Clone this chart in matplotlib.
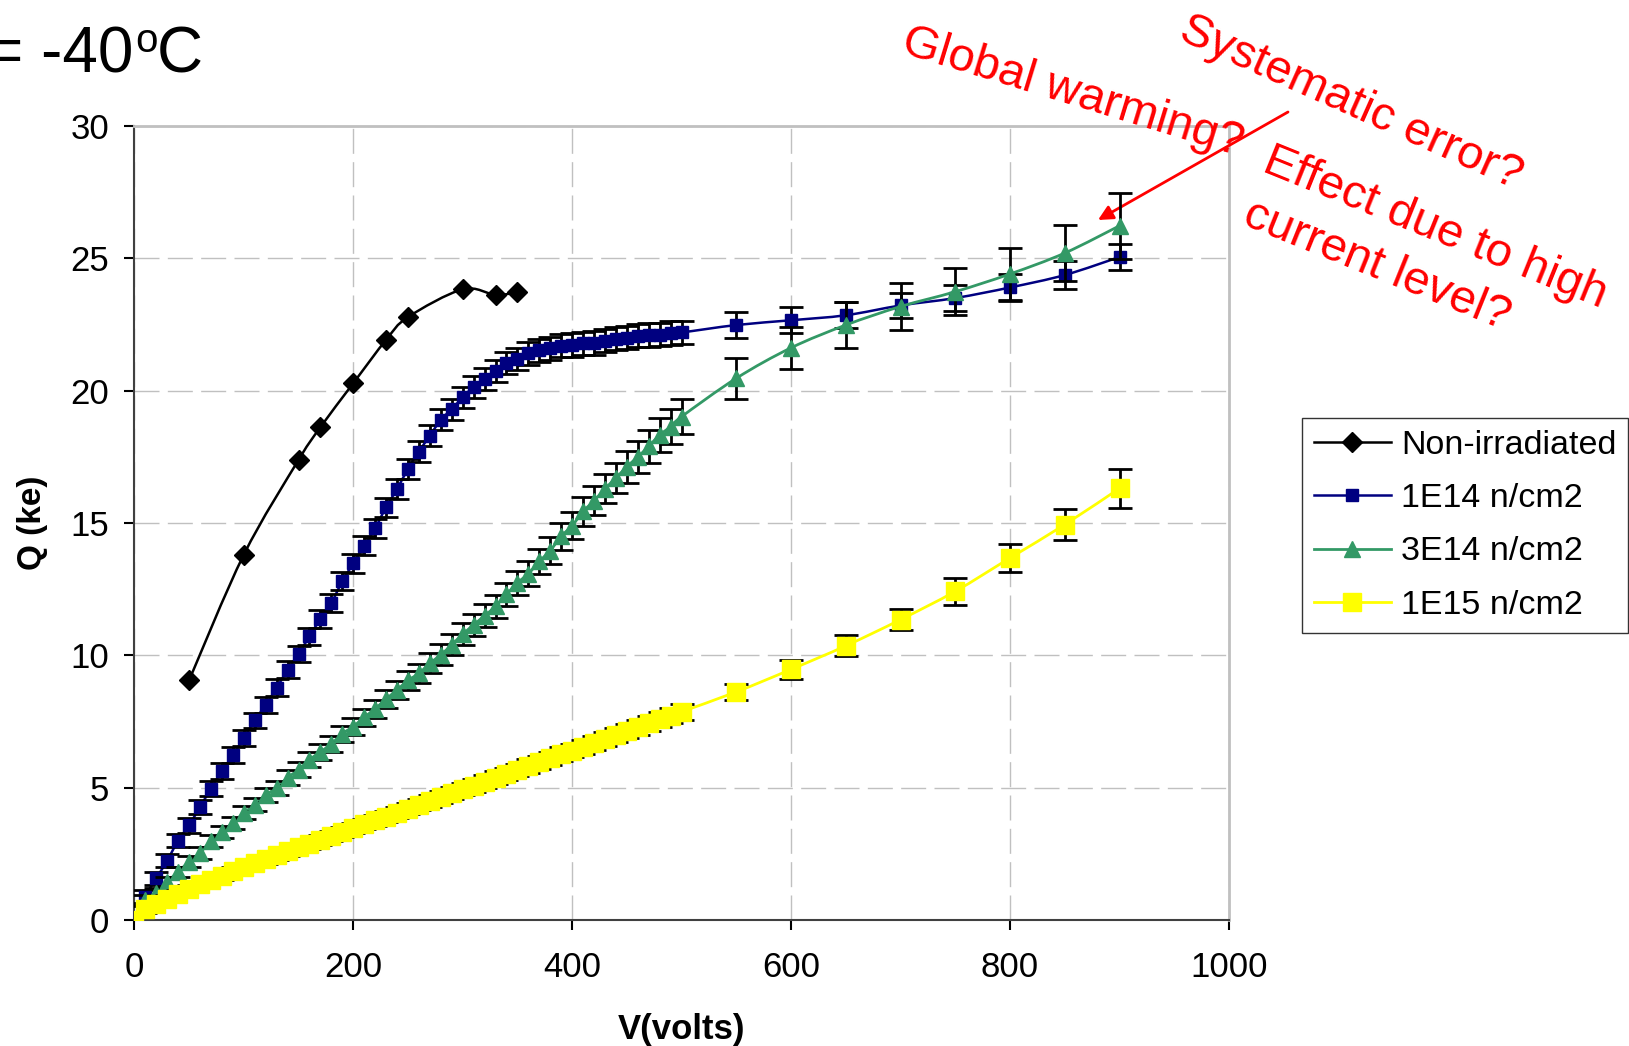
import matplotlib
matplotlib.use('Agg')
import matplotlib.pyplot as plt
from matplotlib.path import Path
from matplotlib.patches import PathPatch
from matplotlib.lines import Line2D

plt.rcParams['font.family'] = ['Liberation Sans', 'DejaVu Sans']

# non-irradiated detector
v_nonirr = [50, 100, 150, 170, 200, 230, 250, 300, 330, 350]
q_nonirr = [9.05, 13.8, 17.38, 18.62, 20.28, 21.92, 22.78, 23.83, 23.62, 23.72]

# bias voltages shared by the irradiated detectors
volts = [0, 10, 20, 30, 40, 50, 60, 70, 80, 90,
         100, 110, 120, 130, 140, 150, 160, 170, 180, 190,
         200, 210, 220, 230, 240, 250, 260, 270, 280, 290,
         300, 310, 320, 330, 340, 350, 360, 370, 380, 390,
         400, 410, 420, 430, 440, 450, 460, 470, 480, 490,
         500, 550, 600, 650, 700, 750, 800, 850, 900]

q_1e14 = [0.0, 0.88, 1.57, 2.24, 3.0, 3.58, 4.27, 4.96, 5.63, 6.22,
          6.88, 7.54, 8.13, 8.77, 9.45, 10.05, 10.72, 11.38, 11.98, 12.8,
          13.47, 14.14, 14.8, 15.6, 16.28, 17.05, 17.7, 18.3, 18.9, 19.3,
          19.75, 20.14, 20.44, 20.74, 21.04, 21.2, 21.41, 21.52, 21.6, 21.7,
          21.72, 21.79, 21.8, 21.89, 21.96, 22.0, 22.08, 22.1, 22.12, 22.18,
          22.2, 22.48, 22.66, 22.85, 23.22, 23.5, 23.9, 24.37, 25.05]
err_1e14 = [0.2, 0.25, 0.25, 0.25, 0.25, 0.28, 0.28, 0.28, 0.3, 0.3,
            0.3, 0.3, 0.3, 0.32, 0.32, 0.32, 0.33, 0.33, 0.35, 0.35,
            0.35, 0.35, 0.36, 0.36, 0.38, 0.38, 0.38, 0.4, 0.4, 0.4,
            0.4, 0.42, 0.42, 0.42, 0.42, 0.43, 0.43, 0.44, 0.44, 0.44,
            0.44, 0.44, 0.44, 0.44, 0.44, 0.44, 0.44, 0.44, 0.44, 0.44,
            0.44, 0.48, 0.5, 0.5, 0.48, 0.5, 0.5, 0.53, 0.5]

q_3e14 = [0.0, 0.75, 1.03, 1.44, 1.82, 2.2, 2.54, 2.99, 3.33, 3.67,
          4.05, 4.35, 4.72, 5.0, 5.38, 5.68, 6.06, 6.35, 6.66, 7.04,
          7.31, 7.66, 7.98, 8.35, 8.69, 9.05, 9.32, 9.7, 10.02, 10.4,
          10.8, 11.15, 11.5, 11.85, 12.3, 12.74, 13.08, 13.55, 13.96, 14.5,
          14.9, 15.44, 15.84, 16.3, 16.7, 17.13, 17.5, 17.9, 18.33, 18.64,
          19.02, 20.47, 21.62, 22.48, 23.18, 23.74, 24.41, 25.2, 26.23]
err_3e14 = [0.15, 0.18, 0.18, 0.2, 0.2, 0.2, 0.22, 0.22, 0.22, 0.24,
            0.24, 0.25, 0.25, 0.26, 0.27, 0.28, 0.28, 0.29, 0.3, 0.3,
            0.31, 0.32, 0.33, 0.34, 0.35, 0.36, 0.37, 0.38, 0.39, 0.4,
            0.41, 0.42, 0.43, 0.44, 0.45, 0.46, 0.47, 0.48, 0.5, 0.51,
            0.52, 0.54, 0.55, 0.56, 0.58, 0.6, 0.61, 0.62, 0.64, 0.66,
            0.67, 0.77, 0.8, 0.87, 0.87, 0.88, 0.98, 1.05, 1.25]

q_1e15 = [0.0, 0.4, 0.6, 0.8, 1.0, 1.18, 1.35, 1.52, 1.68, 1.84,
          2.0, 2.15, 2.3, 2.44, 2.59, 2.74, 2.88, 3.03, 3.18, 3.32,
          3.47, 3.62, 3.76, 3.91, 4.06, 4.2, 4.35, 4.5, 4.64, 4.79,
          4.94, 5.08, 5.23, 5.38, 5.52, 5.67, 5.82, 5.96, 6.11, 6.26,
          6.4, 6.55, 6.7, 6.84, 6.99, 7.14, 7.28, 7.43, 7.58, 7.72,
          7.87, 8.62, 9.47, 10.36, 11.35, 12.42, 13.68, 14.94, 16.31]
err_1e15 = [0.1, 0.12, 0.12, 0.13, 0.13, 0.14, 0.14, 0.15, 0.15, 0.15,
            0.16, 0.16, 0.17, 0.17, 0.17, 0.18, 0.18, 0.18, 0.19, 0.19,
            0.19, 0.2, 0.2, 0.2, 0.21, 0.21, 0.21, 0.22, 0.22, 0.22,
            0.23, 0.23, 0.23, 0.24, 0.24, 0.24, 0.25, 0.25, 0.25, 0.26,
            0.26, 0.26, 0.27, 0.27, 0.27, 0.28, 0.28, 0.28, 0.29, 0.29,
            0.3, 0.3, 0.35, 0.4, 0.4, 0.5, 0.53, 0.6, 0.73]

x_ticks = [0, 200, 400, 600, 800, 1000]
y_ticks = [0, 5, 10, 15, 20, 25, 30]


def smooth_path(x, y):
    # excel style smoothed line (catmull-rom as cubic beziers)
    verts = [(x[0], y[0])]
    codes = [Path.MOVETO]
    n = len(x)
    for i in range(n - 1):
        xa, ya = (x[i - 1], y[i - 1]) if i > 0 else (x[i], y[i])
        xb, yb = (x[i + 2], y[i + 2]) if i + 2 < n else (x[i + 1], y[i + 1])
        verts.append((x[i] + (x[i + 1] - xa) / 6, y[i] + (y[i + 1] - ya) / 6))
        verts.append((x[i + 1] - (xb - x[i]) / 6, y[i + 1] - (yb - y[i]) / 6))
        verts.append((x[i + 1], y[i + 1]))
        codes += [Path.CURVE4] * 3
    return Path(verts, codes)


W, H = 1629, 1046
fig = plt.figure(figsize=(W / 100, H / 100), dpi=100)
ax = fig.add_axes([134.3 / W, 1 - 920 / H, 1094.7 / W, 794 / H])

series = [
    (v_nonirr, q_nonirr, None, 'black', 'D', 10, 1.8, 'Non-irradiated'),
    (volts, q_1e14, err_1e14, '#000080', 's', 8.5, 1.8, '1E14 n/cm2'),
    (volts, q_3e14, err_3e14, '#339966', '^', 11, 2.0, '3E14 n/cm2'),
    (volts, q_1e15, err_1e15, '#FFFF00', 's', 12.5, 2.0, '1E15 n/cm2'),
]

handles = []
labels = []
for i, (x, y, err, c, m, ms, lw, lab) in enumerate(series):
    z = 2 + i
    ax.add_patch(PathPatch(smooth_path(x, y), fill=False, edgecolor=c, lw=lw, zorder=z))
    if err is not None:
        ax.errorbar(x, y, yerr=err, fmt='none', ecolor='black', elinewidth=2.0,
                    capsize=8.5, capthick=2.0, zorder=z + 0.3)
    ax.plot(x, y, linestyle='none', marker=m, ms=ms, color=c, mec=c, zorder=z + 0.6)
    handles.append(Line2D([], [], color=c, lw=lw, marker=m, ms=ms, mec=c))
    labels.append(lab)

ax.set_xlim(0, 1000)
ax.set_ylim(0, 30)
ax.set_xticks(x_ticks)
ax.set_yticks(y_ticks)
ax.grid(True, color='#c0c0c0', linestyle=(0, (18, 6)), linewidth=1)
ax.set_axisbelow(True)
ax.tick_params(direction='out', length=7, width=1.5, labelsize=25)
ax.tick_params(axis='x', pad=15)
ax.tick_params(axis='y', pad=11)
for s in ['top', 'right']:
    ax.spines[s].set_color('#c0c0c0')
    ax.spines[s].set_linewidth(2)
for s in ['left', 'bottom']:
    ax.spines[s].set_color('#404040')
    ax.spines[s].set_linewidth(1.5)

ax.set_xlabel('V(volts)', fontsize=25, fontweight='bold')
ax.xaxis.set_label_coords(0.5, -0.117)
ax.set_ylabel('Q (ke)', fontsize=24, fontweight='bold')
ax.yaxis.set_label_coords(-0.079, 0.5)

leg = ax.legend(handles, labels, loc='upper left', bbox_to_anchor=(1302 / W, 1 - 418 / H),
                bbox_transform=fig.transFigure, borderaxespad=0, fancybox=False,
                edgecolor='black', fontsize=24.5, handlelength=2.27, handletextpad=0.3,
                borderpad=0.34, labelspacing=0.66)
leg.get_frame().set_linewidth(1)

# temperature label, partly off the left edge as in the slide
fig.text(-14 / W, 1 - 72 / H, '= -40', fontsize=46, ha='left', va='baseline')
fig.text(135 / W, 1 - 52 / H, 'o', fontsize=29, ha='left', va='baseline')
fig.text(157 / W, 1 - 72 / H, 'C', fontsize=46, ha='left', va='baseline')

red = '#FF0000'
fig.text(900 / W, 1 - 52 / H, 'Global warming?', color=red, fontsize=34, rotation=-17,
         rotation_mode='anchor', ha='left', va='baseline')
fig.text(1177 / W, 1 - 39 / H, 'Systematic error?', color=red, fontsize=34, rotation=-24,
         rotation_mode='anchor', ha='left', va='baseline')
fig.text(1261 / W, 1 - 171 / H, 'Effect due to high', color=red, fontsize=34, rotation=-22,
         rotation_mode='anchor', ha='left', va='baseline')
fig.text(1241 / W, 1 - 224 / H, 'current level?', color=red, fontsize=34, rotation=-22,
         rotation_mode='anchor', ha='left', va='baseline')
ax.annotate('', xy=(1098 / W, 1 - 220 / H), xytext=(1288 / W, 1 - 112 / H),
            xycoords='figure fraction', textcoords='figure fraction', annotation_clip=False,
            arrowprops=dict(arrowstyle='-|>', color=red, lw=2, mutation_scale=22,
                            shrinkA=0, shrinkB=0))

fig.savefig('out.png', dpi=100)
